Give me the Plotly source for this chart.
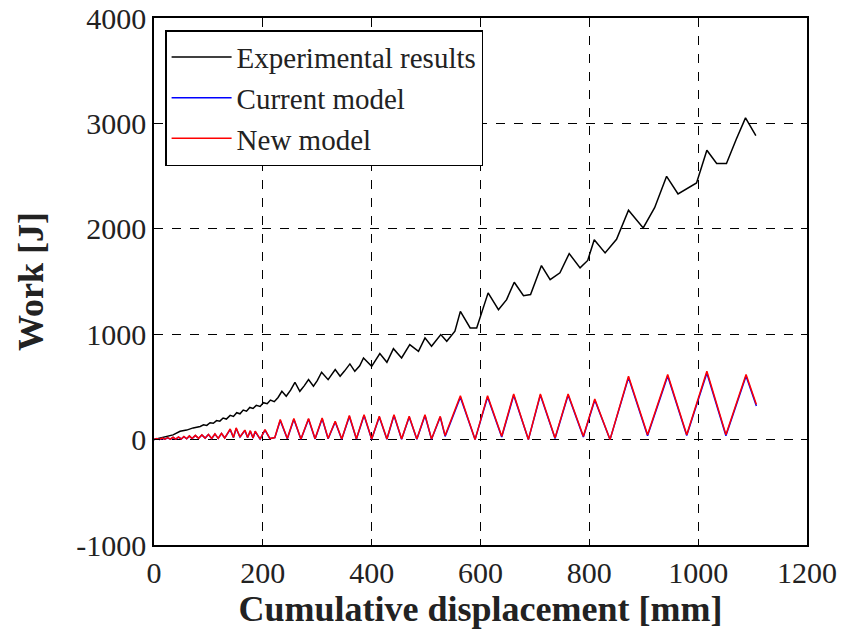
import plotly.graph_objects as go

# Experimental results (black)
exp_x = [0, 12, 23, 35, 48, 60, 72, 85, 91, 97, 103, 109, 115, 121, 127, 133, 140, 146, 152, 158,
         164, 170, 176, 182, 188, 195, 201, 208, 214, 221, 228, 235, 243, 251, 259, 268, 276, 284,
         293, 300, 308, 320, 333, 342, 350, 360, 369, 378, 385, 400, 415, 428, 440, 455, 470, 486,
         498, 510, 527, 538, 553, 563, 581, 593, 614, 633, 648, 662, 679, 692, 712, 728, 746, 763,
         783, 797, 809, 829, 850, 872, 899, 920, 942, 963, 997, 1016, 1034, 1052, 1070, 1087, 1106]
exp_y = [0, 15, 25, 45, 79, 90, 111, 125, 140, 135, 160, 155, 180, 175, 205, 195, 230, 220, 255, 245,
         280, 270, 305, 295, 325, 315, 350, 340, 375, 360, 400, 458, 411, 470, 544, 458, 510, 569,
         506, 560, 639, 569, 664, 601, 650, 718, 648, 700, 775, 695, 816, 733, 863, 775, 901, 838,
         965, 885, 996, 933, 1028, 1217, 1059, 1059, 1392, 1233, 1328, 1493, 1366, 1376, 1651, 1518, 1582, 1765,
         1629, 1700, 1897, 1771, 1900, 2176, 2008, 2200, 2498, 2331, 2435, 2745, 2619, 2619, 2850, 3052, 2884]

# New model (red)
new_x = [0, 5, 10, 15, 20, 25, 30, 35, 40, 45, 50, 55, 60, 65, 70, 76, 82, 88, 94, 100, 106, 112,
         118, 124, 130, 140, 146, 151, 158, 167, 172, 177, 182, 186, 195, 204, 213, 222, 232, 245,
         257, 270, 284, 296, 309, 320, 333, 345, 359, 372, 386, 400, 414, 428, 441, 455, 469, 483,
         498, 510, 526, 535, 563, 590, 613, 639, 661, 688, 710, 737, 761, 789, 810, 838, 872, 907,
         944, 979, 1016, 1051, 1088, 1107]
new_y = [0, 10, 2, 15, 3, 18, 4, 22, 5, 26, 6, 30, 8, 35, 10, 40, 12, 45, 14, 50, 10, 55,
         12, 60, 15, 101, 20, 111, 25, 90, 20, 85, 15, 80, 5, 95, 10, 20, 190, 10,
         200, 5, 200, 8, 206, 10, 174, 5, 228, 8, 237, 5, 221, 5, 237, 5, 221, 5,
         237, 5, 221, 38, 417, 0, 417, 32, 433, 0, 433, 16, 433, 32, 386, 0, 601, 47,
         617, 47, 648, 47, 617, 332]

# Current model (blue)
cur_x = new_x
cur_y = [0, 8, 2, 13, 3, 16, 4, 20, 5, 24, 6, 28, 8, 33, 10, 38, 12, 43, 14, 48, 10, 52,
         12, 58, 15, 95, 20, 105, 25, 86, 20, 80, 15, 76, 5, 90, 10, 18, 182, 8,
         192, 4, 194, 6, 198, 8, 168, 4, 220, 6, 228, 4, 214, 4, 228, 4, 214, 4,
         228, 4, 214, 30, 402, 0, 404, 24, 420, 0, 422, 10, 424, 24, 376, 0, 588, 36,
         604, 38, 632, 36, 604, 318]

x_ticks = [0, 200, 400, 600, 800, 1000, 1200]
x_ticklabels = ["0", "200", "400", "600", "800", "1000", "1200"]
y_ticks = [-1000, 0, 1000, 2000, 3000, 4000]
y_ticklabels = ["-1000", "0", "1000", "2000", "3000", "4000"]

serif = "Liberation Serif, Times New Roman, serif"

fig = go.Figure()
fig.add_trace(go.Scatter(x=exp_x, y=exp_y, mode="lines", name="Experimental results",
                         line=dict(color="black", width=1.5)))
fig.add_trace(go.Scatter(x=cur_x, y=cur_y, mode="lines", name="Current model",
                         line=dict(color="blue", width=1.5)))
fig.add_trace(go.Scatter(x=new_x, y=new_y, mode="lines", name="New model",
                         line=dict(color="red", width=1.5)))

axis_common = dict(
    showline=True, linecolor="black", linewidth=1.5, mirror="ticks",
    ticks="inside", ticklen=6, tickcolor="black",
    showgrid=True, gridcolor="black", griddash="dash", gridwidth=1,
    zeroline=False, tickmode="array", automargin=False,
    tickfont=dict(family=serif, size=30, color="#222"),
)

fig.update_layout(
    width=845, height=639,
    margin=dict(l=154, r=38, t=18, b=94),
    paper_bgcolor="white", plot_bgcolor="white",
    xaxis=dict(range=[0, 1200], tickvals=x_ticks, ticktext=x_ticklabels,
               title=dict(text="<b>Cumulative displacement [mm]</b>",
                          font=dict(family=serif, size=36, color="#222"), standoff=4),
               **axis_common),
    yaxis=dict(range=[-1000, 4000], tickvals=y_ticks, ticktext=y_ticklabels,
               title=dict(text="<b>Work [J]</b>",
                          font=dict(family=serif, size=36, color="#222"), standoff=22),
               **axis_common),
    legend=dict(x=0.017, y=0.977, xanchor="left", yanchor="top",
                bgcolor="white", bordercolor="black", borderwidth=1.5,
                font=dict(family=serif, size=29, color="#222"),
                tracegroupgap=0, itemwidth=60),
    showlegend=True,
)

fig.write_html("out.html")
